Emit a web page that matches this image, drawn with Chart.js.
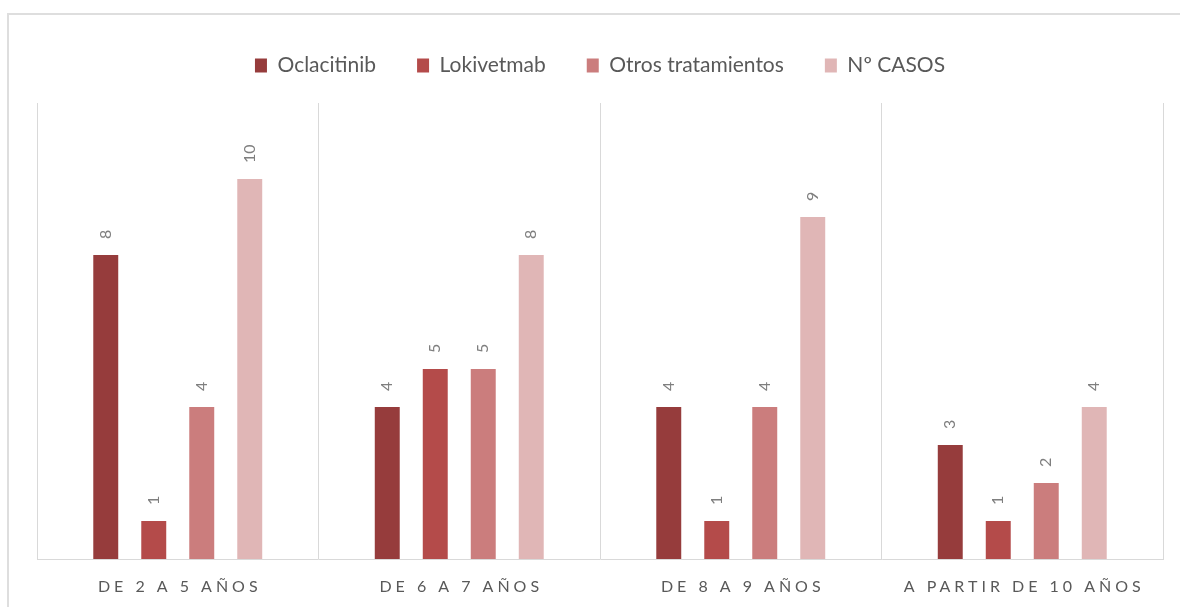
<!DOCTYPE html>
<html>
<head>
<meta charset="utf-8">
<script src="https://cdn.jsdelivr.net/npm/chart.js@4/dist/chart.umd.min.js"></script>
<style>
  html,body{margin:0;padding:0;background:#fff;overflow:hidden;}
  #frame{position:absolute;left:7px;top:13px;width:1300px;height:700px;border:2px solid #dedede;box-sizing:border-box;}
  #c{position:absolute;left:0;top:0;}
</style>
</head>
<body>
<div id="frame"></div>
<canvas id="c" width="1180" height="607"></canvas>
<script>
const categories = ['DE 2 A 5 AÑOS', 'DE 6 A 7 AÑOS', 'DE 8 A 9 AÑOS', 'A PARTIR DE 10 AÑOS'];
const seriesNames = ['Oclacitinib', 'Lokivetmab', 'Otros tratamientos', 'Nº CASOS'];
const oclacitinib = [8, 4, 4, 3];
const lokivetmab = [1, 5, 1, 1];
const otrosTratamientos = [4, 5, 4, 2];
const numCasos = [10, 8, 9, 4];
const colors = ['#963C3C', '#B44B4A', '#CB7D7D', '#E0B6B6'];

const FONT = "Lato, 'Open Sans', sans-serif";
const LAYOUT_TOP = 14;
const PLOT_TOP = 103;

const legendFit = {
  id: 'legendFit',
  beforeInit(chart) {
    const orig = chart.legend.fit;
    chart.legend.fit = function () {
      orig.call(this);
      this.height = PLOT_TOP - LAYOUT_TOP;
    };
  }
};

const valueLabels = {
  id: 'valueLabels',
  afterDatasetsDraw(chart) {
    const ctx = chart.ctx;
    ctx.save();
    ctx.font = "16px " + FONT;
    ctx.fillStyle = '#7f7f7f';
    ctx.textAlign = 'left';
    ctx.textBaseline = 'middle';
    chart.data.datasets.forEach((ds, i) => {
      const meta = chart.getDatasetMeta(i);
      meta.data.forEach((bar, j) => {
        ctx.save();
        ctx.translate(bar.x, bar.y - 16);
        ctx.rotate(-Math.PI / 2);
        ctx.fillText(String(ds.data[j]), 0, 0);
        ctx.restore();
      });
    });
    ctx.restore();
  }
};

const spacedXLabels = {
  id: 'spacedXLabels',
  afterDraw(chart) {
    const ctx = chart.ctx;
    const xs = chart.scales.x;
    ctx.save();
    ctx.font = "16px " + FONT;
    ctx.fillStyle = '#595959';
    ctx.textBaseline = 'middle';
    ctx.textAlign = 'left';
    const sp = 4;
    try { ctx.letterSpacing = sp + 'px'; } catch (e) {}
    categories.forEach((lab, i) => {
      const x = xs.getPixelForValue(i);
      const w = ctx.measureText(lab).width;
      ctx.fillText(lab, x - (w - sp) / 2, chart.chartArea.bottom + 28);
    });
    ctx.restore();
  }
};

new Chart(document.getElementById('c'), {
  type: 'bar',
  data: {
    labels: categories,
    datasets: [
      { label: seriesNames[0], data: oclacitinib, backgroundColor: colors[0] },
      { label: seriesNames[1], data: lokivetmab, backgroundColor: colors[1] },
      { label: seriesNames[2], data: otrosTratamientos, backgroundColor: colors[2] },
      { label: seriesNames[3], data: numCasos, backgroundColor: colors[3] }
    ]
  },
  options: {
    responsive: false,
    animation: false,
    devicePixelRatio: 1,
    layout: { padding: { left: 37, right: 17, top: LAYOUT_TOP, bottom: 0 } },
    datasets: { bar: { categoryPercentage: 0.682, barPercentage: 0.52 } },
    plugins: {
      legend: {
        position: 'top',
        labels: {
          font: { family: FONT, size: 21 },
          color: '#595959',
          boxWidth: 12,
          boxHeight: 14,
          padding: 41
        }
      },
      tooltip: { enabled: false }
    },
    scales: {
      x: {
        grid: { display: true, offset: true, color: '#d9d9d9', lineWidth: 1, drawTicks: false },
        border: { display: true, color: '#d9d9d9', width: 1 },
        ticks: { color: 'rgba(0,0,0,0)', font: { family: FONT, size: 15 }, padding: 10 },
        afterFit(scale) { scale.height = 48; }
      },
      y: {
        display: false,
        min: 0,
        max: 12
      }
    }
  },
  plugins: [legendFit, valueLabels, spacedXLabels]
});
</script>
</body>
</html>
